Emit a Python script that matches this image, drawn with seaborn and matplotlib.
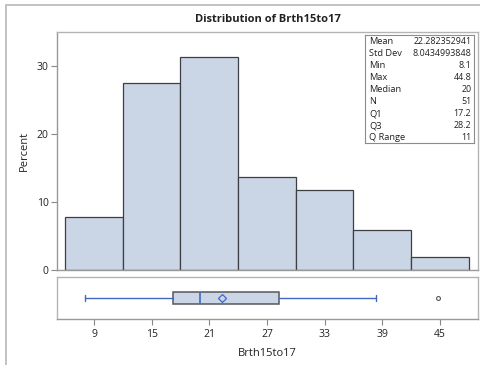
import matplotlib
matplotlib.use("Agg")
import matplotlib.pyplot as plt
from matplotlib.lines import Line2D
import seaborn as sns
import pandas as pd

# Histogram of Brth15to17: bin edges and percent of observations per bin
bin_edges = [6, 12, 18, 24, 30, 36, 42, 48]
percent = [7.84, 27.45, 31.37, 13.73, 11.76, 5.88, 1.96]

# Summary statistics
stat_names = ["Mean", "Std Dev", "Min", "Max", "Median", "N", "Q1", "Q3", "Q Range"]
stat_values = ["22.282352941", "8.0434993848", "8.1", "44.8", "20", "51", "17.2", "28.2", "11"]

# Box plot pieces
q1, median, q3 = 17.2, 20.0, 28.2
mean = 22.282352941
whisker_low, whisker_high = 8.1, 38.3
outliers = [44.8]

x_ticks = [9, 15, 21, 27, 33, 39, 45]
y_ticks = [0, 10, 20, 30]

sns.set_theme(style="white")
plt.rcParams["font.family"] = ["Open Sans", "DejaVu Sans"]

FILL = "#CAD5E6"
EDGE = "#3C3F44"
BLUE = "#4169C0"
FRAME = "#B4B4B4"
TEXT = "#222222"

fig = plt.figure(figsize=(4.8, 3.65), dpi=100)
W, H = 480, 365


def fig_rect(x0, y0, x1, y1):
    return [x0 / W, 1 - y1 / H, (x1 - x0) / W, (y1 - y0) / H]


ax = fig.add_axes(fig_rect(57, 32, 478, 270))
axb = fig.add_axes(fig_rect(57, 277, 478, 319))

# Outer frame lines
fig.add_artist(Line2D([6 / W, 6 / W], [0, 1 - 5 / H], color="#BDBDBD", lw=1.3,
                      transform=fig.transFigure))
fig.add_artist(Line2D([6 / W, 1], [1 - 5 / H, 1 - 5 / H], color="#BDBDBD", lw=1.3,
                      transform=fig.transFigure))

centers = [(a + b) / 2 for a, b in zip(bin_edges[:-1], bin_edges[1:])]
df = pd.DataFrame({"Brth15to17": centers, "Percent": percent})
sns.histplot(data=df, x="Brth15to17", weights="Percent", bins=bin_edges, ax=ax,
             color=FILL, edgecolor=EDGE, linewidth=0.9, alpha=1.0)

xlim = (5.15, 48.96)
ax.set_xlim(xlim)
ax.set_ylim(0, 35.0)
ax.set_xticks([])
ax.set_yticks(y_ticks)
ax.set_yticklabels([str(t) for t in y_ticks], fontsize=7.5, color=TEXT)
ax.tick_params(axis="y", which="both", left=True, length=4, width=0.8,
               color="#888888", pad=2)
ax.set_xlabel("")
ax.set_ylabel("Percent", fontsize=8, color=TEXT, labelpad=5)
for side, sp in ax.spines.items():
    sp.set_visible(True)
    sp.set_color(FRAME)
    sp.set_linewidth(1.0)
ax.spines["left"].set_color("#999999")
ax.spines["bottom"].set_color("#999999")

ax.set_title("Distribution of Brth15to17", fontsize=8.0, fontweight="bold",
             color=TEXT, pad=7)

# Statistics table in the upper right corner
tx0, ty0, tx1, ty1 = 365, 35, 474, 143
tbl = fig.add_axes(fig_rect(tx0, ty0, tx1, ty1))
tbl.set_xlim(0, 1)
tbl.set_ylim(len(stat_names), 0)
tbl.set_xticks([])
tbl.set_yticks([])
tbl.set_facecolor("white")
for sp in tbl.spines.values():
    sp.set_color("#8C8C8C")
    sp.set_linewidth(0.8)
for i, (n, v) in enumerate(zip(stat_names, stat_values)):
    tbl.text(0.04, i + 0.55, n, fontsize=6.7, va="center", ha="left", color=TEXT)
    tbl.text(0.975, i + 0.55, v, fontsize=6.4, va="center", ha="right", color=TEXT)

# Horizontal box plot from the summary statistics
stats = [{
    "med": median, "q1": q1, "q3": q3,
    "whislo": whisker_low, "whishi": whisker_high,
    "mean": mean, "fliers": outliers,
}]
axb.bxp(stats, positions=[0], vert=False, widths=0.55, showmeans=True,
        patch_artist=True, showcaps=True,
        boxprops=dict(facecolor=FILL, edgecolor="#55585E", linewidth=1.1),
        medianprops=dict(color=BLUE, linewidth=1.2),
        whiskerprops=dict(color=BLUE, linewidth=1.0),
        capprops=dict(color=BLUE, linewidth=1.0),
        meanprops=dict(marker="D", markerfacecolor="none", markeredgecolor=BLUE,
                       markersize=4.5, markeredgewidth=0.9),
        flierprops=dict(marker="o", markerfacecolor="none", markeredgecolor="#555555",
                        markersize=2.8, markeredgewidth=0.8))
axb.set_xlim(xlim)
axb.set_ylim(-1, 1)
axb.set_yticks([])
axb.set_xticks(x_ticks)
axb.set_xticklabels([str(t) for t in x_ticks], fontsize=7.5, color=TEXT)
axb.tick_params(axis="x", which="both", bottom=True, length=4, width=0.8,
                color="#888888", pad=3)
axb.set_xlabel("Brth15to17", fontsize=8, color=TEXT, labelpad=6)
for sp in axb.spines.values():
    sp.set_visible(True)
    sp.set_color(FRAME)
    sp.set_linewidth(1.0)
axb.spines["bottom"].set_color("#999999")

fig.savefig("out.png", dpi=100)
